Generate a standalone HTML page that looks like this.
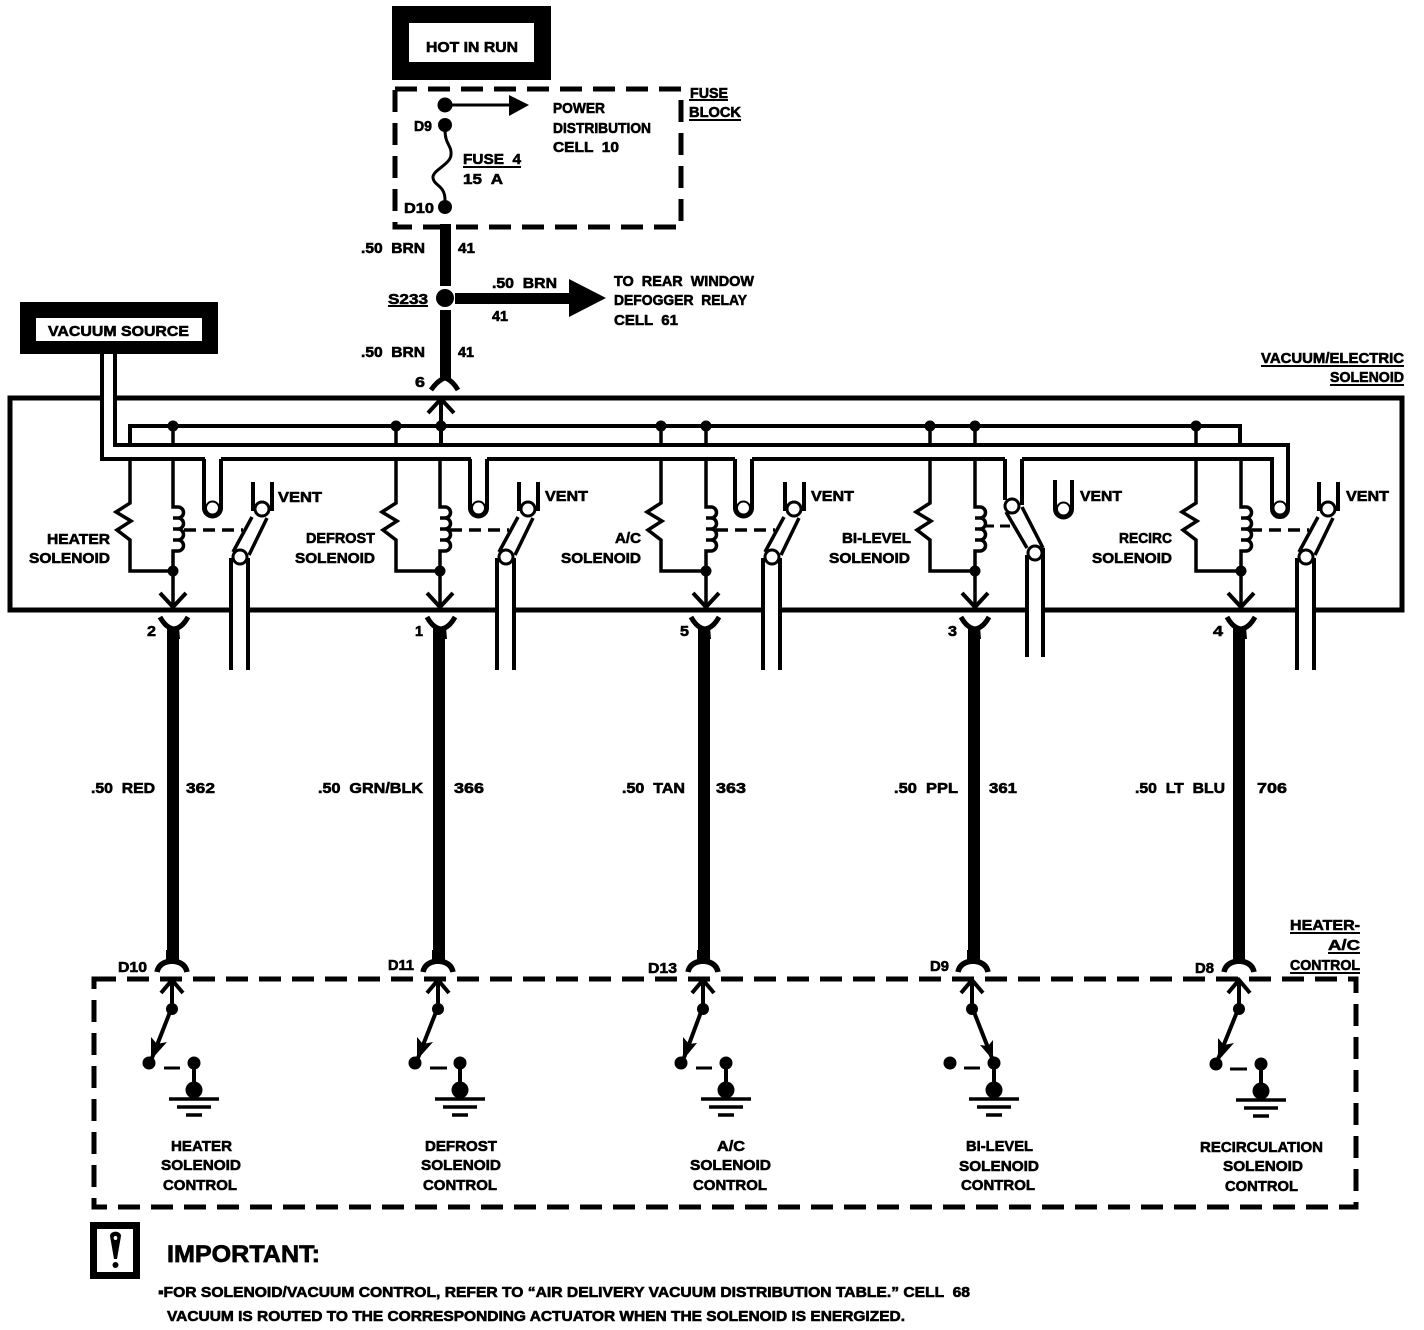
<!DOCTYPE html>
<html>
<head>
<meta charset="utf-8">
<style>
html,body{margin:0;padding:0;background:#fff;width:1424px;height:1330px;overflow:hidden}
svg{display:block}
text{font-family:"Liberation Sans",sans-serif;font-weight:bold;font-size:15px;fill:#000;stroke:#000;stroke-width:.6;white-space:pre}
.l{fill:none;stroke:#000;stroke-linecap:butt}
</style>
</head>
<body>
<svg width="1424" height="1330" viewBox="0 0 1424 1330" xmlns="http://www.w3.org/2000/svg">
<defs>
  <g id="res">
    <path class="l" stroke-width="3.5" d="M130,459V503L116,512L131,521L117,530L130,540V571H173"/>
  </g>
  <g id="coil">
    <path class="l" stroke-width="3.5" d="M173,459V507H178a5,5 0 0 1 0,11H173M178,518a5,5 0 0 1 0,11H173M178,529a5,5 0 0 1 0,11H173M178,540a5,5 0 0 1 0,11H173V606"/>
    <circle cx="173" cy="571" r="5.5"/>
    <path class="l" stroke-width="4" d="M160,593L173,607L186,593"/>
  </g>
  <g id="ytop">
    <path class="l" stroke-width="5" d="M-14,-10Q-8,1 0,2Q8,1 14,-10"/>
    <path d="M-5,0H5L6,12H-6Z"/>
  </g>
  <g id="ybot">
    <path class="l" stroke-width="5.5" d="M-15,10Q-13,0 0,-1Q13,0 15,10"/>
    <path d="M-6,-12H6V2H-6Z"/>
  </g>
  <g id="up">
    <path class="l" stroke-width="4" d="M0,30V1M-11,14L0,1L11,14"/>
    <circle cx="0" cy="30" r="6"/>
  </g>
  <g id="gnd">
    <circle cx="0" cy="-2" r="6.5"/>
    <path class="l" stroke-width="4" d="M0,-2V25"/>
    <circle cx="0" cy="25" r="8.5"/>
    <path class="l" stroke-width="3.5" d="M-25,34H25M-17,42H17M-8,50H8"/>
  </g>
  <g id="ushape">
    <path fill="#fff" stroke="#000" stroke-width="4" d="M204,459V508A8.5,8.5 0 0 0 221,508V459"/>
    <circle cx="212.500" cy="508" r="6.500" fill="#fff" stroke="#000" stroke-width="2"/>
  </g>
  <g id="sw">
    <path class="l" stroke-width="4" d="M253,482V511M272,482V511"/>
    <path class="l" stroke-width="3.500" d="M252,517L233,552M267,518L249,555"/>
    <circle cx="262" cy="509" r="7" fill="#fff" stroke="#000" stroke-width="3"/>
    <circle cx="240" cy="557" r="7" fill="#fff" stroke="#000" stroke-width="3"/>
    <rect x="233" y="600" width="13" height="16" fill="#fff"/>
    <path class="l" stroke-width="4" d="M231,558V670M248,558V670"/>
    <path class="l" stroke-width="3.500" stroke-dasharray="12,7" d="M184,530H243"/>
  </g>
</defs>

<!-- top source -->
<rect x="392" y="6" width="159" height="74"/>
<rect x="409" y="23" width="125" height="39" fill="#fff"/>
<text x="426" y="52" textLength="92" lengthAdjust="spacingAndGlyphs">HOT IN RUN</text>

<!-- fuse block -->
<rect x="395" y="89" width="286" height="138" fill="none" stroke="#000" stroke-width="5" stroke-dasharray="22,11"/>
<circle cx="445" cy="105" r="7.500"/>
<circle cx="445" cy="125" r="7"/>
<circle cx="445" cy="207" r="7"/>
<path class="l" stroke-width="3" d="M445,105H512"/>
<path d="M509,95L529,105L509,116Z"/>
<path class="l" stroke-width="3" d="M445,130C445,145 452,145 451,155C450,165 432,170 433,178C434,186 445,185 445,200"/>
<text x="414" y="131" textLength="18" lengthAdjust="spacingAndGlyphs">D9</text>
<text x="404" y="213" textLength="30" lengthAdjust="spacingAndGlyphs">D10</text>
<text x="463" y="164" textLength="58" lengthAdjust="spacingAndGlyphs">FUSE  4</text>
<path class="l" stroke-width="2" d="M463,167H521"/>
<text x="463" y="184" textLength="40" lengthAdjust="spacingAndGlyphs">15  A</text>
<text x="553" y="113" textLength="52" lengthAdjust="spacingAndGlyphs">POWER</text>
<text x="553" y="133" textLength="98" lengthAdjust="spacingAndGlyphs">DISTRIBUTION</text>
<text x="553" y="152" textLength="66" lengthAdjust="spacingAndGlyphs">CELL  10</text>
<text x="690" y="98" textLength="38" lengthAdjust="spacingAndGlyphs">FUSE</text>
<path class="l" stroke-width="2" d="M689,100H728"/>
<text x="689" y="117" textLength="52" lengthAdjust="spacingAndGlyphs">BLOCK</text>
<path class="l" stroke-width="2" d="M689,120H741"/>

<!-- feed wire -->
<rect x="440" y="224" width="11" height="62"/>
<circle cx="445" cy="298" r="9"/>
<rect x="440" y="310" width="11" height="70"/>
<path class="l" stroke-width="5" d="M431,390Q438,380 445,378Q452,380 458,390"/>
<path d="M455,293H569V279L606,298L569,317V304H455Z"/>
<text x="361" y="253" textLength="64" lengthAdjust="spacingAndGlyphs">.50  BRN</text>
<text x="458" y="253" textLength="17" lengthAdjust="spacingAndGlyphs">41</text>
<text x="388" y="304" textLength="40" lengthAdjust="spacingAndGlyphs">S233</text>
<path class="l" stroke-width="2" d="M388,306H428"/>
<text x="492" y="288" textLength="65" lengthAdjust="spacingAndGlyphs">.50  BRN</text>
<text x="492" y="321" textLength="16" lengthAdjust="spacingAndGlyphs">41</text>
<text x="614" y="286" textLength="140" lengthAdjust="spacingAndGlyphs">TO  REAR  WINDOW</text>
<text x="614" y="305" textLength="133" lengthAdjust="spacingAndGlyphs">DEFOGGER  RELAY</text>
<text x="614" y="325" textLength="64" lengthAdjust="spacingAndGlyphs">CELL  61</text>
<text x="361" y="357" textLength="64" lengthAdjust="spacingAndGlyphs">.50  BRN</text>
<text x="458" y="357" textLength="16" lengthAdjust="spacingAndGlyphs">41</text>
<text x="415" y="387" textLength="10" lengthAdjust="spacingAndGlyphs">6</text>

<!-- vacuum source -->
<rect x="20" y="302" width="198" height="52"/>
<rect x="36" y="318" width="166" height="23" fill="#fff"/>
<text x="48" y="336" textLength="141" lengthAdjust="spacingAndGlyphs">VACUUM SOURCE</text>

<!-- solenoid box -->
<rect x="10" y="398" width="1392" height="212" fill="none" stroke="#000" stroke-width="5"/>
<text x="1261" y="363" textLength="143" lengthAdjust="spacingAndGlyphs">VACUUM/ELECTRIC</text>
<path class="l" stroke-width="2" d="M1261,366H1404"/>
<text x="1330" y="382" textLength="74" lengthAdjust="spacingAndGlyphs">SOLENOID</text>
<path class="l" stroke-width="2" d="M1330,385H1404"/>

<!-- bus -->
<path class="l" stroke-width="4" d="M130,460V426H1240V460"/>
<path class="l" stroke-width="3.500" d="M173,426V460M396,426V460M661,426V460M706,426V460M930,426V460M975,426V460M1196,426V460"/>
<path class="l" stroke-width="4" d="M441,399V460"/>
<path class="l" stroke-width="4" d="M428,413L441,399L454,413"/>
<circle cx="173" cy="426" r="5.500"/><circle cx="396" cy="426" r="5.500"/><circle cx="441" cy="426" r="5.500"/>
<circle cx="661" cy="426" r="5.500"/><circle cx="706" cy="426" r="5.500"/><circle cx="930" cy="426" r="5.500"/>
<circle cx="975" cy="426" r="5.500"/><circle cx="1196" cy="426" r="5.500"/>

<!-- coils -->
<use href="#res"/><use href="#coil"/>
<use href="#res" x="266"/><use href="#coil" x="267"/>
<use href="#res" x="531"/><use href="#coil" x="533"/>
<use href="#res" x="800"/><use href="#coil" x="802"/>
<use href="#res" x="1066"/><use href="#coil" x="1068"/>

<!-- vacuum pipe -->
<rect x="104" y="354" width="9" height="105" fill="#fff"/>
<rect x="104" y="447" width="1184" height="10" fill="#fff"/>
<path class="l" stroke-width="4" d="M102,354V459H205M115,354V445H1288V509"/>
<path class="l" stroke-width="4" d="M221,459H471M487,459H735M752,459H1005M1022,459H1272V509"/>
<use href="#ushape"/>
<use href="#ushape" x="266"/>
<use href="#ushape" x="531"/>
<path fill="#fff" stroke="#000" stroke-width="4" d="M1272,509A8,8 0 0 0 1288,509"/>
<circle cx="1280" cy="508" r="6.500" fill="#fff" stroke="#000" stroke-width="2"/>

<!-- switches -->
<use href="#sw"/>
<use href="#sw" x="266"/>
<use href="#sw" x="532"/>
<use href="#sw" x="1066"/>

<!-- bi-level switch -->
<path class="l" stroke-width="4" d="M1005,459V500M1022,459V505"/>
<path class="l" stroke-width="3.500" d="M1006,512L1027,548M1022,507L1043,548"/>
<circle cx="1012" cy="506" r="7" fill="#fff" stroke="#000" stroke-width="3"/>
<circle cx="1035" cy="553" r="7" fill="#fff" stroke="#000" stroke-width="3"/>
<rect x="1029" y="600" width="13" height="16" fill="#fff"/>
<path class="l" stroke-width="4" d="M1027,555V657M1043,548V657"/>
<path class="l" stroke-width="3" d="M986,526H994M1000,526H1010"/>
<path fill="#fff" stroke="#000" stroke-width="4" d="M1055,480V509A8.500,8.500 0 0 0 1072,509V480"/>
<circle cx="1063.500" cy="509" r="6.500" fill="#fff" stroke="#000" stroke-width="2"/>

<text x="278" y="502" textLength="44" lengthAdjust="spacingAndGlyphs">VENT</text>
<text x="545" y="501" textLength="43" lengthAdjust="spacingAndGlyphs">VENT</text>
<text x="811" y="501" textLength="43" lengthAdjust="spacingAndGlyphs">VENT</text>
<text x="1080" y="501" textLength="42" lengthAdjust="spacingAndGlyphs">VENT</text>
<text x="1346" y="501" textLength="43" lengthAdjust="spacingAndGlyphs">VENT</text>

<text x="47" y="544" textLength="63" lengthAdjust="spacingAndGlyphs">HEATER</text>
<text x="29" y="563" textLength="81" lengthAdjust="spacingAndGlyphs">SOLENOID</text>
<text x="306" y="543" textLength="69" lengthAdjust="spacingAndGlyphs">DEFROST</text>
<text x="295" y="563" textLength="80" lengthAdjust="spacingAndGlyphs">SOLENOID</text>
<text x="615" y="543" textLength="26" lengthAdjust="spacingAndGlyphs">A/C</text>
<text x="561" y="563" textLength="80" lengthAdjust="spacingAndGlyphs">SOLENOID</text>
<text x="842" y="543" textLength="69" lengthAdjust="spacingAndGlyphs">BI-LEVEL</text>
<text x="829" y="563" textLength="81" lengthAdjust="spacingAndGlyphs">SOLENOID</text>
<text x="1119" y="543" textLength="53" lengthAdjust="spacingAndGlyphs">RECIRC</text>
<text x="1092" y="563" textLength="80" lengthAdjust="spacingAndGlyphs">SOLENOID</text>

<!-- output wires -->
<rect x="167" y="628" width="12" height="332"/>
<rect x="433" y="628" width="12" height="332"/>
<rect x="698" y="628" width="12" height="332"/>
<rect x="968" y="628" width="12" height="332"/>
<rect x="1233" y="628" width="12" height="332"/>
<use href="#ytop" transform="translate(174,627)"/>
<use href="#ytop" transform="translate(441,627)"/>
<use href="#ytop" transform="translate(705,627)"/>
<use href="#ytop" transform="translate(975,627)"/>
<use href="#ytop" transform="translate(1241,627)"/>
<text x="147" y="636" textLength="9" lengthAdjust="spacingAndGlyphs">2</text>
<text x="415" y="636" textLength="8" lengthAdjust="spacingAndGlyphs">1</text>
<text x="680" y="636" textLength="9" lengthAdjust="spacingAndGlyphs">5</text>
<text x="948" y="636" textLength="9" lengthAdjust="spacingAndGlyphs">3</text>
<text x="1213" y="636" textLength="10" lengthAdjust="spacingAndGlyphs">4</text>

<text x="91" y="793" textLength="64" lengthAdjust="spacingAndGlyphs">.50  RED</text>
<text x="186" y="793" textLength="29" lengthAdjust="spacingAndGlyphs">362</text>
<text x="318" y="793" textLength="105" lengthAdjust="spacingAndGlyphs">.50  GRN/BLK</text>
<text x="454" y="793" textLength="30" lengthAdjust="spacingAndGlyphs">366</text>
<text x="622" y="793" textLength="63" lengthAdjust="spacingAndGlyphs">.50  TAN</text>
<text x="716" y="793" textLength="30" lengthAdjust="spacingAndGlyphs">363</text>
<text x="894" y="793" textLength="64" lengthAdjust="spacingAndGlyphs">.50  PPL</text>
<text x="989" y="793" textLength="28" lengthAdjust="spacingAndGlyphs">361</text>
<text x="1135" y="793" textLength="90" lengthAdjust="spacingAndGlyphs">.50  LT  BLU</text>
<text x="1257" y="793" textLength="30" lengthAdjust="spacingAndGlyphs">706</text>

<!-- control box -->
<use href="#ybot" transform="translate(172,962)"/>
<use href="#ybot" transform="translate(438,962)"/>
<use href="#ybot" transform="translate(703,962)"/>
<use href="#ybot" transform="translate(973,962)"/>
<use href="#ybot" transform="translate(1239,962)"/>
<rect x="94" y="979" width="1262" height="228" fill="none" stroke="#000" stroke-width="5" stroke-dasharray="22,11"/>
<text x="118" y="972" textLength="29" lengthAdjust="spacingAndGlyphs">D10</text>
<text x="388" y="970" textLength="26" lengthAdjust="spacingAndGlyphs">D11</text>
<text x="648" y="973" textLength="29" lengthAdjust="spacingAndGlyphs">D13</text>
<text x="930" y="971" textLength="19" lengthAdjust="spacingAndGlyphs">D9</text>
<text x="1195" y="973" textLength="19" lengthAdjust="spacingAndGlyphs">D8</text>
<text x="1290" y="930" textLength="70" lengthAdjust="spacingAndGlyphs">HEATER-</text>
<path class="l" stroke-width="2" d="M1290,933H1360"/>
<text x="1328" y="950" textLength="32" lengthAdjust="spacingAndGlyphs">A/C</text>
<path class="l" stroke-width="2" d="M1328,953H1360"/>
<text x="1290" y="970" textLength="70" lengthAdjust="spacingAndGlyphs">CONTROL</text>
<path class="l" stroke-width="2" d="M1290,973H1360"/>

<use href="#up" x="172" y="979"/>
<use href="#up" x="438" y="979"/>
<use href="#up" x="703" y="979"/>
<use href="#up" x="972" y="979"/>
<use href="#up" x="1239" y="979"/>

<!-- contacts -->
<g>
  <circle cx="149" cy="1063" r="6.500"/><path class="l" stroke-width="4" d="M170,1012L150,1063"/><path d="M151,1060L151,1037L157,1044L167,1042Z"/>
  <path class="l" stroke-width="3" d="M164,1068H180"/>
  <circle cx="415" cy="1063" r="6.500"/><path class="l" stroke-width="4" d="M436,1012L416,1063"/><path d="M417,1060L417,1037L423,1044L433,1042Z"/>
  <path class="l" stroke-width="3" d="M430,1068H447"/>
  <circle cx="681" cy="1063" r="6.500"/><path class="l" stroke-width="4" d="M701,1012L682,1063"/><path d="M683,1060L683,1037L689,1044L697,1043Z"/>
  <path class="l" stroke-width="3" d="M696,1068H712"/>
  <circle cx="950" cy="1063" r="6.500"/><path class="l" stroke-width="4" d="M974,1012L994,1063"/><path d="M993,1060L980,1045L988,1046L993,1040Z"/>
  <path class="l" stroke-width="3" d="M964,1068H980"/>
  <circle cx="1216" cy="1064" r="6.500"/><path class="l" stroke-width="4" d="M1237,1012L1216,1064"/><path d="M1218,1061L1218,1038L1224,1045L1234,1043Z"/>
  <path class="l" stroke-width="3" d="M1230,1069H1247"/>
</g>
<use href="#gnd" x="194" y="1065"/>
<use href="#gnd" x="460" y="1065"/>
<use href="#gnd" x="726" y="1065"/>
<use href="#gnd" x="994" y="1065"/>
<use href="#gnd" x="1261" y="1066"/>

<text x="171" y="1151" textLength="61" lengthAdjust="spacingAndGlyphs">HEATER</text>
<text x="161" y="1170" textLength="80" lengthAdjust="spacingAndGlyphs">SOLENOID</text>
<text x="163" y="1190" textLength="74" lengthAdjust="spacingAndGlyphs">CONTROL</text>
<text x="425" y="1151" textLength="72" lengthAdjust="spacingAndGlyphs">DEFROST</text>
<text x="421" y="1170" textLength="80" lengthAdjust="spacingAndGlyphs">SOLENOID</text>
<text x="423" y="1190" textLength="74" lengthAdjust="spacingAndGlyphs">CONTROL</text>
<text x="717" y="1151" textLength="28" lengthAdjust="spacingAndGlyphs">A/C</text>
<text x="690" y="1170" textLength="81" lengthAdjust="spacingAndGlyphs">SOLENOID</text>
<text x="693" y="1190" textLength="74" lengthAdjust="spacingAndGlyphs">CONTROL</text>
<text x="966" y="1151" textLength="67" lengthAdjust="spacingAndGlyphs">BI-LEVEL</text>
<text x="959" y="1171" textLength="80" lengthAdjust="spacingAndGlyphs">SOLENOID</text>
<text x="961" y="1190" textLength="74" lengthAdjust="spacingAndGlyphs">CONTROL</text>
<text x="1200" y="1152" textLength="123" lengthAdjust="spacingAndGlyphs">RECIRCULATION</text>
<text x="1223" y="1171" textLength="80" lengthAdjust="spacingAndGlyphs">SOLENOID</text>
<text x="1225" y="1191" textLength="73" lengthAdjust="spacingAndGlyphs">CONTROL</text>

<!-- important -->
<rect x="93.500" y="1225.500" width="43" height="50" fill="none" stroke="#000" stroke-width="7"/>
<path d="M110,1236a5,4 0 0 1 11,0L117,1259H114Z"/>
<ellipse cx="115.500" cy="1238" rx="1.800" ry="2" fill="#fff"/>
<circle cx="115.500" cy="1265" r="3"/>
<text x="167" y="1262" textLength="153" lengthAdjust="spacingAndGlyphs" style="font-size:24px;stroke-width:.7">IMPORTANT:</text>
<text x="158" y="1297" textLength="812" lengthAdjust="spacingAndGlyphs" style="font-size:14.5px">▪FOR SOLENOID/VACUUM CONTROL, REFER TO “AIR DELIVERY VACUUM DISTRIBUTION TABLE.” CELL  68</text>
<text x="167" y="1321" textLength="738" lengthAdjust="spacingAndGlyphs" style="font-size:14.5px">VACUUM IS ROUTED TO THE CORRESPONDING ACTUATOR WHEN THE SOLENOID IS ENERGIZED.</text>
</svg>
</body>
</html>
